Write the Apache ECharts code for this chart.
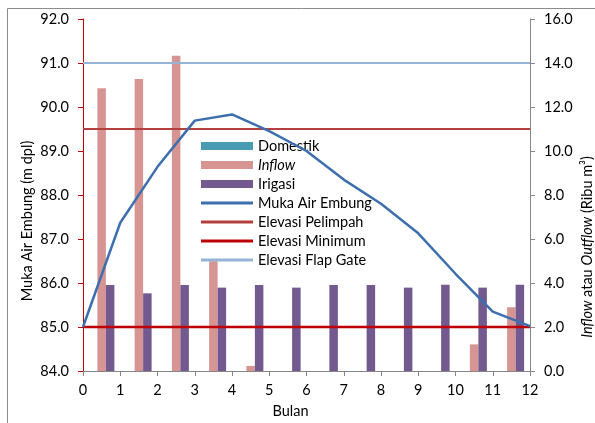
<!DOCTYPE html>
<html><head><meta charset="utf-8">
<script src="https://cdn.jsdelivr.net/npm/echarts@6/dist/echarts.min.js"></script>
<style>html,body{margin:0;padding:0;background:#fff}#c{width:595px;height:423px}</style>
</head><body><div id="c"></div>
<script>
const months = ['1','2','3','4','5','6','7','8','9','10','11','12'];
const domestik = [0,0,0,0,0,0,0,0,0,0,0,0];
const inflow = [12.85,13.27,14.33,4.99,0.23,0,0,0,0,0,1.21,2.90];
const irigasi = [3.91,3.53,3.91,3.79,3.91,3.79,3.91,3.91,3.79,3.92,3.79,3.92];
const bulan = [0,1,2,3,4,5,6,7,8,9,10,11,12];
const mukaAir = [85.00,87.37,88.64,89.69,89.83,89.45,89.00,88.35,87.80,87.13,86.21,85.35,85.02];
const elevasiPelimpah = 89.5;
const elevasiMinimum = 85.0;
const elevasiFlapGate = 91.0;
const leftTitle = 'Muka Air Embung (m dpl)';
const rightTitle = '{i|Inflow} atau {i|Outflow} (Ribu m³)';

const FONT = 'Lato';
const FS = 14.5;
const flat = v => [[bulan[0], v], [bulan[bulan.length-1], v]];
const legendText = {fontFamily: FONT, fontSize: FS, color: '#000', lineHeight: 16,
  rich: {i: {fontStyle: 'italic', fontFamily: FONT, fontSize: FS, lineHeight: 16}}};

const chart = echarts.init(document.getElementById('c'));
chart.setOption({
  animation: false,
  textStyle: {fontFamily: FONT, color: '#000'},
  graphic: [
    {type:'rect', shape:{x:7.5,y:8.5,width:600,height:430}, style:{fill:'none', stroke:'#8c8c8c', lineWidth:1}, z:-1},
    {type:'text', x:27, y:221, rotation:Math.PI/2,
     style:{text:leftTitle, font:FS+'px '+FONT, fill:'#000', align:'center', verticalAlign:'middle'}},
    {type:'text', x:587, y:247, rotation:Math.PI/2,
     style:{text:rightTitle, fontFamily:FONT, fontSize:FS, fill:'#000', align:'center', verticalAlign:'middle',
       rich:{i:{fontStyle:'italic', fontFamily:FONT, fontSize:FS, fill:'#000'}}}}
  ],
  grid: {left: 83, right: 65, top: 19, bottom: 52, outerBoundsMode: 'none', containLabel: false},
  legend: [
    {orient: 'vertical', left: 196, top: 133,
     itemWidth: 52, itemHeight: 8, itemGap: 3,
     textStyle: legendText,
     formatter: n => n === 'Inflow' ? '{i|Inflow}' : n,
     data: [{name:'Domestik', icon:'rect'}, {name:'Inflow', icon:'rect'}, {name:'Irigasi', icon:'rect'}]},
    {orient: 'vertical', left: 196, top: 190,
     itemWidth: 52, itemHeight: 3, itemGap: 3,
     textStyle: legendText,
     data: [
       {name:'Muka Air Embung', icon:'rect'},
       {name:'Elevasi Pelimpah', icon:'rect'},
       {name:'Elevasi Minimum', icon:'rect'},
       {name:'Elevasi Flap Gate', icon:'rect'}]}
  ],
  xAxis: [
    {type:'category', data: months, show:false, boundaryGap:true},
    {type:'value', min:0, max:12, interval:1, position:'bottom',
     axisLine:{show:true, lineStyle:{color:'#868686', width:1}},
     axisTick:{show:true, length:5, inside:false, lineStyle:{color:'#868686'}},
     axisLabel:{fontFamily:FONT, fontSize:FS, color:'#000', margin:12},
     splitLine:{show:false},
     name:'Bulan', nameLocation:'middle', nameGap:33,
     nameTextStyle:{fontFamily:FONT, fontSize:FS, color:'#000', padding:[0,32,0,0]}}
  ],
  yAxis: [
    {type:'value', min:84, max:92, interval:1, position:'left',
     axisLine:{show:true, lineStyle:{color:'#c00000', width:1}},
     axisTick:{show:true, length:5, lineStyle:{color:'#c00000'}},
     axisLabel:{fontFamily:FONT, fontSize:FS, color:'#000', margin:14, formatter: v => v.toFixed(1)},
     splitLine:{show:false}},
    {type:'value', min:0, max:16, interval:2, position:'right',
     axisLine:{show:true, lineStyle:{color:'#868686', width:1}},
     axisTick:{show:true, length:5, lineStyle:{color:'#868686'}},
     axisLabel:{fontFamily:FONT, fontSize:FS, color:'#000', margin:14, formatter: v => v.toFixed(1)},
     splitLine:{show:false}}
  ],
  series: [
    {name:'Domestik', type:'bar', xAxisIndex:0, yAxisIndex:1, data: domestik,
     barWidth: 8.5, barGap:'0%', itemStyle:{color:'#4a9cb4'}},
    {name:'Inflow', type:'bar', xAxisIndex:0, yAxisIndex:1, data: inflow,
     barWidth: 8.5, barGap:'0%', itemStyle:{color:'#d69593'}},
    {name:'Irigasi', type:'bar', xAxisIndex:0, yAxisIndex:1, data: irigasi,
     barWidth: 8.5, barGap:'0%', itemStyle:{color:'#72598f'}},
    {name:'Muka Air Embung', type:'line', xAxisIndex:1, yAxisIndex:0,
     data: bulan.map((b,i)=>[b, mukaAir[i]]), symbol:'none', showSymbol:false,
     lineStyle:{color:'#3d6fae', width:2.5}, itemStyle:{color:'#3d6fae'}, z:5},
    {name:'Elevasi Pelimpah', type:'line', xAxisIndex:1, yAxisIndex:0,
     data: flat(elevasiPelimpah), symbol:'none', showSymbol:false,
     lineStyle:{color:'#b3403c', width:2.2}, itemStyle:{color:'#b3403c'}, z:4},
    {name:'Elevasi Minimum', type:'line', xAxisIndex:1, yAxisIndex:0,
     data: flat(elevasiMinimum), symbol:'none', showSymbol:false,
     lineStyle:{color:'#c00000', width:2.5}, itemStyle:{color:'#c00000'}, z:4},
    {name:'Elevasi Flap Gate', type:'line', xAxisIndex:1, yAxisIndex:0,
     data: flat(elevasiFlapGate), symbol:'none', showSymbol:false,
     lineStyle:{color:'#95b3d7', width:2.2}, itemStyle:{color:'#95b3d7'}, z:4}
  ]
});
</script></body></html>
